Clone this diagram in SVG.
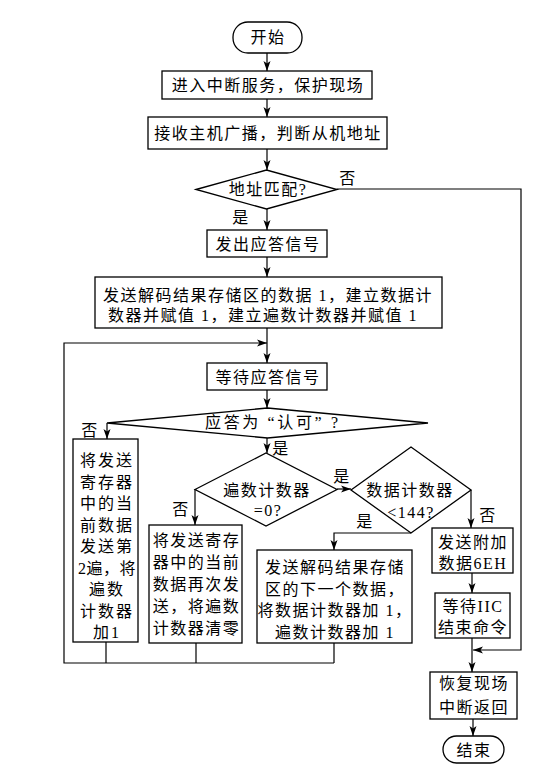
<svg xmlns="http://www.w3.org/2000/svg" width="549" height="771" viewBox="0 0 549 771">
<defs>
<marker id="ah" markerUnits="userSpaceOnUse" markerWidth="11" markerHeight="8" refX="10" refY="4" orient="auto">
<path d="M0,0.5 L10,4 L0,7.5 L2.5,4 Z" fill="#000"/>
</marker>
<style>
.s{fill:#fff;stroke:#000;stroke-width:1.3}
.c{fill:none;stroke:#000;stroke-width:1.2}
.a{marker-end:url(#ah)}
text{font-family:"Liberation Serif","Noto Sans CJK SC",serif;font-size:16px;fill:#000;text-anchor:middle;letter-spacing:1.5px}
.n{letter-spacing:2px}
</style>
</defs>
<rect width="549" height="771" fill="#fff"/>
<g id="connectors">
<path class="c a" d="M267,53 V71"/>
<path class="c a" d="M267,99 V117"/>
<path class="c a" d="M267,149 V170"/>
<path class="c a" d="M267,209 V230"/>
<path class="c a" d="M267,257 V277"/>
<path class="c a" d="M267,328 V363"/>
<path class="c" d="M106,642 V663 M196,643 V663 M334,643 V663"/>
<path class="c a" d="M334,663 H64 V343 H267"/>
<path class="c a" d="M267,390 V408"/>
<path class="c a" d="M107,423 V439"/>
<path class="c a" d="M267,438 V453"/>
<path class="c a" d="M195,489 V525"/>
<path class="c a" d="M337,489 H351"/>
<path class="c a" d="M411,533 H334 V550"/>
<path class="c a" d="M471,490 V528"/>
<path class="c a" d="M472,573 V593"/>
<path class="c a" d="M472,638 V672"/>
<path class="c a" d="M337,189 H521 V650 H473"/>
<path class="c a" d="M473,719 V736"/>
</g>
<g id="start"><rect class="s" x="233" y="22" width="69" height="31" rx="15"/><text x="268" y="43">开始</text></g>
<g id="enter"><rect class="s" x="162" y="71" width="210" height="28"/><text x="268" y="91">进入中断服务，保护现场</text></g>
<g id="receive"><rect class="s" x="148" y="117" width="239" height="32"/><text x="268" y="139">接收主机广播，判断从机地址</text></g>
<g id="addrMatch"><polygon class="s" points="196,189.5 266.5,170 337,189.5 266.5,209"/><text x="268" y="195">地址匹配?</text></g>
<g id="ack"><rect class="s" x="207" y="230" width="120" height="27"/><text x="268" y="249.5">发出应答信号</text></g>
<g id="sendData"><rect class="s" x="95" y="277" width="347" height="51"/><text x="268" y="301">发送解码结果存储区的数据 1，建立数据计</text><text x="263" y="321">数器并赋值 1，建立遍数计数器并赋值 1</text></g>
<g id="waitAck"><rect class="s" x="207" y="363" width="120" height="27"/><text x="268" y="382.5">等待应答信号</text></g>
<g id="ackOk"><polygon class="s" points="107,423 267.5,408 428,423 267.5,438"/><text x="271.5" y="428" textLength="133" lengthAdjust="spacing" style="letter-spacing:0">应答为 “认可” ?</text></g>
<g id="resend2"><rect class="s" x="73" y="439" width="65" height="203"/>
<text class="n" x="107" y="466">将发送</text><text class="n" x="107" y="487.5">寄存器</text><text class="n" x="107" y="509">中的当</text><text class="n" x="107" y="530.5">前数据</text><text class="n" x="107" y="552">发送第</text><text class="n" x="107" y="573.5" style="letter-spacing:0.5px">2遍，将</text><text class="n" x="107" y="595">遍数</text><text class="n" x="107" y="616.5">计数器</text><text class="n" x="107" y="638">加1</text></g>
<g id="passZero"><polygon class="s" points="195,489.5 266,453 337,489.5 266,526"/><text x="267" y="496">遍数计数器</text><text x="268" y="516">=0?</text></g>
<g id="resend"><rect class="s" x="149" y="525" width="93" height="118"/>
<text x="196.5" y="546">将发送寄存</text><text x="196.5" y="568">器中的当前</text><text x="196.5" y="590">数据再次发</text><text x="196.5" y="612">送，将遍数</text><text x="196.5" y="634">计数器清零</text></g>
<g id="dataCount"><polygon class="s" points="351,490 411,447 471,490 411,533"/><text x="410" y="496">数据计数器</text><text x="411" y="518">&lt;144?</text></g>
<g id="sendNext"><rect class="s" x="257" y="550" width="155" height="93"/>
<text x="335" y="573">发送解码结果存储</text><text x="335" y="594.5">区的下一个数据，</text><text x="335" y="616">将数据计数器加 1，</text><text x="335" y="637.5">遍数计数器加 1</text></g>
<g id="send6EH"><rect class="s" x="432" y="528" width="81" height="45"/><text x="473" y="548">发送附加</text><text x="473" y="569">数据6EH</text></g>
<g id="waitIIC"><rect class="s" x="435" y="593" width="75" height="45"/><text x="473" y="612">等待IIC</text><text x="473" y="633">结束命令</text></g>
<g id="restore"><rect class="s" x="430" y="672" width="87" height="47"/><text x="474" y="689">恢复现场</text><text x="474" y="713">中断返回</text></g>
<g id="end"><rect class="s" x="443" y="736" width="61" height="27" rx="13.5"/><text x="474" y="756">结束</text></g>
<g id="labels">
<text x="348" y="184">否</text>
<text x="241" y="223">是</text>
<text x="90" y="436">否</text>
<text x="281" y="454">是</text>
<text x="342" y="482">是</text>
<text x="181" y="515">否</text>
<text x="365" y="527">是</text>
<text x="488" y="521">否</text>
</g>
</svg>
